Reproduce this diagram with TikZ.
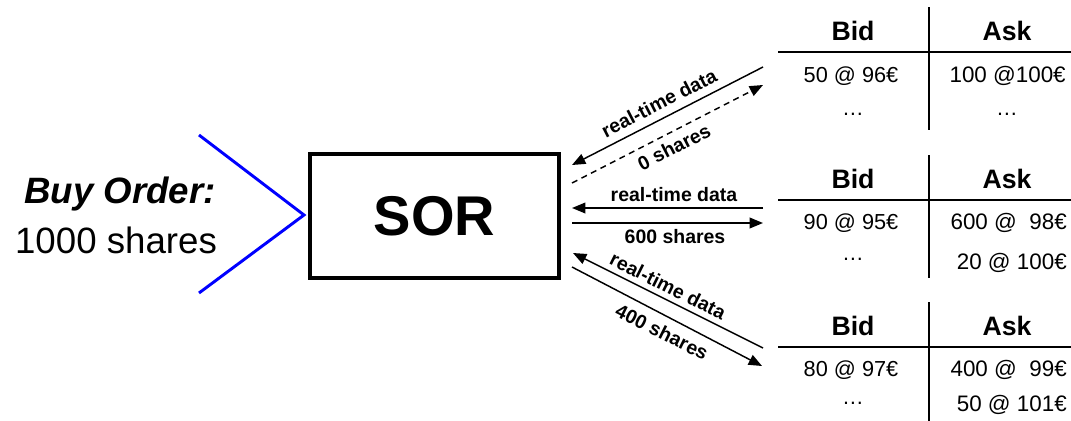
\documentclass[tikz,border=0pt]{standalone}
\usepackage{fontspec}
\setmainfont{Liberation Sans}
\usepackage{tikz}
\usetikzlibrary{arrows.meta}
\usepackage{color}
\definecolor{OrderBlue}{RGB}{0,0,255}

\begin{document}
\begin{tikzpicture}[x=0.75pt, y=-0.75pt]
    \tikzset{ sor/.style={draw=black, line width=3pt, minimum width=186.75pt, minimum height=93pt, inner sep=0pt, font=\fontsize{42}{42}\selectfont\bfseries } }
    \tikzset{ chev/.style={draw=OrderBlue, line width=2.2pt } }
    \tikzset{ arr/.style={draw=black, line width=1.1pt, -{Triangle[length=10pt, width=8pt]} } }
    \tikzset{ lbl/.style={inner sep=0pt, font=\fontsize{14.6}{14.6}\selectfont\bfseries } }
    \tikzset{ hdr/.style={anchor=base, inner sep=0pt, font=\fontsize{20}{20}\selectfont\bfseries } }
    \tikzset{ bid/.style={anchor=base, inner sep=0pt, font=\fontsize{16.3}{16.3}\selectfont } }
    \tikzset{ ask/.style={anchor=base east, inner sep=0pt, font=\fontsize{16.8}{16.8}\selectfont } }
    \tikzset{ dots/.style={anchor=base, inner sep=0pt, font=\fontsize{16.3}{16.3}\selectfont } }
    \tikzset{ rule/.style={draw=black, line width=1.5pt } }

    \useasboundingbox (0,0) rectangle (1071,421);

    % order and router
    \node[anchor=base, inner sep=0pt, font=\fontsize{27.5}{27.5}\selectfont\bfseries\itshape] (order) at (120,203) {Buy Order:};
    \node[anchor=base, inner sep=0pt, font=\fontsize{27.5}{27.5}\selectfont] (qty) at (116,253) {1000 shares};

    \coordinate (chevT) at (199,135);
    \coordinate (chevM) at (304,215);
    \coordinate (chevB) at (199,293);
    \draw[chev] (chevT) -- (chevM) -- (chevB);

    \node[sor] (sor) at (434.5,216) {SOR};

    % order books
    \node[hdr] (bidA) at (853, 40) {Bid};
    \node[hdr] (askA) at (1007, 40) {Ask};
    \node[bid] (bidA1) at (851, 40+42) {50 @ 96€};
    \node[ask] (askA1) at (1066, 40+42) {100 @100€};
    \node[dots] (bidA2) at (853, 40+75) {…};
    \node[dots] (askA2) at (1007, 40+75) {…};

    \node[hdr] (bidB) at (853, 188) {Bid};
    \node[hdr] (askB) at (1007, 188) {Ask};
    \node[bid] (bidB1) at (851, 188+41) {90 @ 95€};
    \node[ask] (askB1) at (1067, 188+41) {600 @\ \ 98€};
    \node[dots] (bidB2) at (853, 188+72) {…};
    \node[ask] (askB2) at (1067, 188+81) {20 @ 100€};

    \node[hdr] (bidC) at (853, 335) {Bid};
    \node[hdr] (askC) at (1007, 335) {Ask};
    \node[bid] (bidC1) at (851, 335+41) {80 @ 97€};
    \node[ask] (askC1) at (1067, 335+41) {400 @\ \ 99€};
    \node[dots] (bidC2) at (853, 335+69) {…};
    \node[ask] (askC2) at (1067, 335+76) {50 @ 101€};

    \foreach \y in {40, 188, 335} {
        \draw[rule] (929, \y-33) -- (929, \y+90);
        \draw[rule] (778, \y+12) -- (1071, \y+12);
    }

    % messages
    \coordinate (aS) at (763,67);
    \coordinate (aE) at (572,165);
    \coordinate (bS) at (572,183);
    \coordinate (bE) at (763,85);
    \coordinate (cS) at (763,208);
    \coordinate (cE) at (572,208);
    \coordinate (dS) at (572,223);
    \coordinate (dE) at (763,223);
    \coordinate (eS) at (763,348);
    \coordinate (eE) at (573,253);
    \coordinate (fS) at (572,267);
    \coordinate (fE) at (762,366);

    \draw[arr] (aS) -- (aE);
    \draw[arr, dash pattern=on 4.5pt off 3.5pt] (bS) -- (bE);
    \draw[arr] (cS) -- (cE);
    \draw[arr] (dS) -- (dE);
    \draw[arr] (eS) -- (eE);
    \draw[arr] (fS) -- (fE);

    \node[lbl, rotate=27.2] (lblA) at (659,103) {real-time data};
    \node[lbl, rotate=27.2] (lblB) at (674,147) {0 shares};
    \node[lbl] (lblC) at (674,195) {real-time data};
    \node[lbl] (lblD) at (675,237) {600 shares};
    \node[lbl, rotate=-26.6] (lblE) at (668,286) {real-time data};
    \node[lbl, rotate=-26.6] (lblF) at (662,332) {400 shares};
\end{tikzpicture}
\end{document}
